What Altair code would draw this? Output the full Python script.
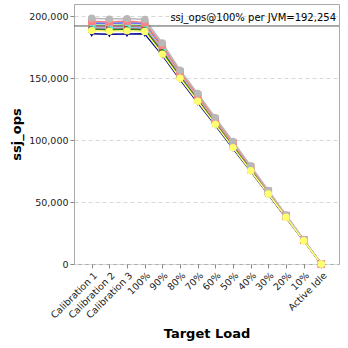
import altair as alt
import pandas as pd

categories = ["Calibration 1", "Calibration 2", "Calibration 3", "100%", "90%", "80%",
              "70%", "60%", "50%", "40%", "30%", "20%", "10%", "Active Idle"]

series_names = ["JVM 1", "JVM 2", "JVM 3", "JVM 4", "JVM 5", "JVM 6",
                "JVM 7", "JVM 8", "JVM 9", "JVM 10", "JVM 11", "JVM 12"]
series_colors = ["#000090", "#60c0ff", "#7070ff", "#60e060", "#ffc060", "#ff70ff",
                 "#60e0e0", "#c04040", "#208020", "#ff8080", "#b8b8b8", "#ffff70"]
series_shapes = ["triangle-down", "square", "triangle-up", "diamond", "square", "triangle-down",
                 "circle", "triangle-right", "diamond", "square", "circle", "circle"]

v1 = [186000, 185500, 185800, 186000, 168500, 149000, 130500, 112000, 93200, 74800, 56000, 37400, 18700, 0]
v2 = [195200, 194800, 195500, 194400, 176000, 154800, 136000, 116600, 97400, 78200, 58600, 39000, 19550, 0]
v3 = [194500, 194000, 194800, 193800, 175500, 154400, 135600, 116200, 97000, 77900, 58400, 38900, 19500, 0]
v4 = [193000, 192500, 193200, 192200, 174200, 153600, 134800, 115500, 96400, 77300, 58000, 38600, 19300, 0]
v5 = [192200, 191800, 192400, 191600, 173600, 153000, 134200, 115000, 96000, 77000, 57800, 38500, 19250, 0]
v6 = [191400, 191000, 191700, 190900, 173000, 152500, 133700, 114600, 95600, 76700, 57600, 38400, 19200, 0]
v7 = [190600, 190300, 190900, 190200, 172300, 152000, 133200, 114200, 95200, 76400, 57400, 38300, 19150, 0]
v8 = [189800, 189500, 190100, 189500, 171700, 151500, 132700, 113800, 94900, 76100, 57200, 38100, 19100, 0]
v9 = [189200, 188900, 189500, 188900, 171000, 151000, 132300, 113400, 94600, 75900, 57000, 38000, 19000, 0]
v10 = [196000, 195500, 196200, 195000, 176800, 155200, 136500, 117000, 97800, 78500, 58800, 39200, 19600, 0]
v11 = [198500, 197800, 198200, 197500, 178500, 156500, 137800, 118200, 98900, 79300, 59500, 39700, 19900, 0]
v12 = [188500, 188000, 188300, 187800, 169500, 150000, 131500, 112800, 94000, 75300, 56500, 37700, 18800, 0]

all_values = [v1, v2, v3, v4, v5, v6, v7, v8, v9, v10, v11, v12]

ref_value = 192254
ref_label = f"ssj_ops@100% per JVM={ref_value:,}"

rows = []
for si, (name, vals) in enumerate(zip(series_names, all_values)):
    for ci, (cat, val) in enumerate(zip(categories, vals)):
        rows.append({"series": name, "order": si, "load": cat, "ssj_ops": val})
df = pd.DataFrame(rows)

font = "DejaVu Sans"

x_enc = alt.X("load:N", sort=categories, title="Target Load",
              scale=alt.Scale(type="point", padding=1.1),
              axis=alt.Axis(labelAngle=-45, labelAlign="right", labelBaseline="top",
                            labelFontSize=9.5, labelColor="#222", labelFont=font,
                            titleFont=font, titleFontSize=13, titleFontWeight="bold",
                            titleColor="#000", titlePadding=8,
                            tickColor="#888", tickSize=4, domain=False, grid=False,
                            labelPadding=2))
y_enc = alt.Y("ssj_ops:Q", title="ssj_ops",
              scale=alt.Scale(domain=[0, 210000], nice=False),
              axis=alt.Axis(values=list(range(0, 200001, 25000)), format=",d",
                            labelFontSize=9.5, labelColor="#222", labelFont=font,
                            titleFont=font, titleFontSize=13, titleFontWeight="bold",
                            titleColor="#000", titlePadding=5,
                            tickColor="#888", tickSize=4, domain=False,
                            grid=True, gridColor="#d8d8d8", gridDash=[4, 3]))

color_enc = alt.Color("series:N", sort=series_names,
                      scale=alt.Scale(domain=series_names, range=series_colors), legend=None)
shape_enc = alt.Shape("series:N", sort=series_names,
                      scale=alt.Scale(domain=series_names, range=series_shapes), legend=None)

base = alt.Chart(df)
lines = base.mark_line(strokeWidth=1.5).encode(
    x=x_enc, y=y_enc, color=color_enc, detail="series:N", order="order:Q")
points = base.mark_point(filled=True, size=55, opacity=1).encode(
    x=x_enc, y=y_enc, color=color_enc, shape=shape_enc, order="order:Q")

ref_df = pd.DataFrame({"v": [ref_value], "label": [ref_label]})
rule = alt.Chart(ref_df).mark_rule(color="#555", strokeWidth=1).encode(y="v:Q")
text = alt.Chart(ref_df).mark_text(align="right", baseline="bottom", dy=-3, dx=-3,
                                   fontSize=10, font=font, color="#000").encode(
    y="v:Q", x=alt.value(265), text="label:N")

chart = alt.layer(lines, rule, points, text).properties(
    width=265, height=260,
    autosize=alt.AutoSizeParams(type="none"),
    padding={"left": 74, "top": 4, "right": 9, "bottom": 84},
    background="white",
).configure_view(stroke="#aaa", strokeWidth=1)

chart.save("out.html", embed_options={"renderer": "svg", "actions": False})
